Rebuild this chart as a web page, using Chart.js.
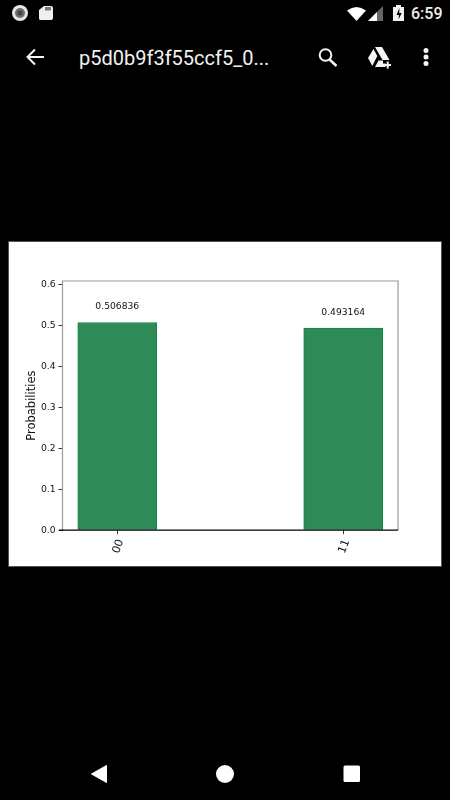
<!DOCTYPE html>
<html>
<head>
<meta charset="utf-8">
<style>
  html, body { margin: 0; padding: 0; background: #000; width: 450px; height: 800px; overflow: hidden; }
  #panel { position: absolute; left: 9px; top: 242px; width: 432px; height: 324px; background: #fff; box-shadow: 0 0 0 1px #555; }
  #icons { position: absolute; left: 0; top: 0; }
  .bar-text { position: absolute; color: #fff; font-family: Roboto, sans-serif; white-space: nowrap; }
  #clock { left: 411px; top: 4px; font-size: 16px; line-height: 19px; font-weight: 500; color: #eee; }
  #title { left: 79px; top: 45px; font-size: 20px; line-height: 26px; color: #f2f2f2; }
</style>
</head>
<body>
<svg id="icons" width="450" height="800" viewBox="0 0 450 800">
  <!-- status bar -->
  <circle cx="20" cy="13" r="8" fill="#e6e6e6"/>
  <circle cx="20" cy="13" r="5" fill="#6e6e6e"/>
  <circle cx="20" cy="13" r="2.5" fill="#444"/>
  <path d="M44 6h7a2 2 0 0 1 2 2v10a2 2 0 0 1-2 2h-11a2 2 0 0 1-1-2v-8z" fill="#f0f0f0"/>
  <path d="M46 7v3.500M48 7v3.500M50 7v3.500" stroke="#000" stroke-width="1"/>
  <path d="M347 10.500q9.500-7 19 0l-9.500 10.500z" fill="#fff"/>
  <path d="M368 21l15-15v15z" fill="#666"/>
  <path d="M368 21l9-9v9z" fill="#fff"/>
  <path d="M393 7h3v-2h5v2h3v14h-11z" fill="#f2f2f2"/>
  <path d="M399.500 8l-3 7h2.500l-.5 4.500 3.200-6.500h-2.500z" fill="#000"/>
  <!-- app bar -->
  <path d="M44 57h-16M35 49.500l-7.500 7.500 7.500 7.500" stroke="#f5f5f5" stroke-width="2" fill="none"/>
  <circle cx="325.500" cy="55" r="5.800" stroke="#f5f5f5" stroke-width="2" fill="none"/>
  <path d="M329.500 59.500l7 6.500" stroke="#f5f5f5" stroke-width="2.400"/>
  <path d="M375 47h7l7.500 13h-7zM373.500 49l3.800 7-5 10-4.300-8zM378.500 60.500h4.500v3h2.500v3.500h-10.500z" fill="#f5f5f5"/>
  <path d="M384.500 65h6.500M387.700 61.500v7" stroke="#f5f5f5" stroke-width="2"/>
  <circle cx="426" cy="50.500" r="2.500" fill="#f5f5f5"/>
  <circle cx="426" cy="57" r="2.500" fill="#f5f5f5"/>
  <circle cx="426" cy="63.500" r="2.500" fill="#f5f5f5"/>
  <!-- nav bar -->
  <path d="M106.500 765.500v17l-15-8.500z" fill="#fff" stroke="#fff" stroke-width="1" stroke-linejoin="round"/>
  <circle cx="225" cy="774" r="9" fill="#fff"/>
  <rect x="343.500" y="765.500" width="16.500" height="16.500" rx="1.500" fill="#fff"/>
</svg>
<div class="bar-text" id="clock">6:59</div>
<div class="bar-text" id="title">p5d0b9f3f55ccf5_0...</div>
<div id="panel"><canvas id="myChart" width="432" height="324"></canvas></div>
<script src="https://cdn.jsdelivr.net/npm/chart.js@4"></script>
<script>
// values
const categories = ["00", "11"];
const probabilities = [0.506836, 0.493164];
const yTicks = [0, 0.1, 0.2, 0.3, 0.4, 0.5, 0.6];
const xPositions = [0, 1];

const FONT = "'DejaVu Sans'";

// spines + the numbers over the bars
const extras = {
  id: "extras",
  afterDatasetsDraw(chart) {
    const c = chart.ctx, a = chart.chartArea;
    c.save();
    c.strokeStyle = "#999";
    c.lineWidth = 1.2;
    c.beginPath();
    c.moveTo(a.left, a.bottom);
    c.lineTo(a.left, a.top);
    c.lineTo(a.right, a.top);
    c.lineTo(a.right, a.bottom);
    c.stroke();
    c.strokeStyle = "#000";
    c.lineWidth = 1.3;
    c.beginPath();
    c.moveTo(a.left - 3.5, a.bottom);
    c.lineTo(a.right, a.bottom);
    c.stroke();
    c.fillStyle = "#111";
    c.font = "9.2px " + FONT;
    c.textAlign = "center";
    c.textBaseline = "middle";
    probabilities.forEach((p, i) => {
      const x = chart.scales.x.getPixelForValue(xPositions[i]);
      const y = chart.scales.y.getPixelForValue(p);
      c.fillText(p.toFixed(6), x, y - 15.5);
    });
    c.restore();
  }
};

const ctx = document.getElementById("myChart");
new Chart(ctx, {
  type: "bar",
  data: {
    datasets: [{
      label: "Probabilities",
      data: xPositions.map((x, i) => ({ x: x, y: probabilities[i] })),
      backgroundColor: "#2e8b57",
      borderColor: "#0a8a3a",
      borderWidth: 1,
      borderSkipped: "bottom",
      barThickness: 79
    }]
  },
  plugins: [extras],
  options: {
    responsive: false,
    animation: false,
    layout: { padding: { left: 16.4, top: 39, right: 43, bottom: 0 } },
    plugins: { legend: { display: false }, tooltip: { enabled: false } },
    scales: {
      x: {
        type: "linear",
        offset: false,
        min: -0.2425,
        max: 1.2425,
        afterBuildTicks(scale) { scale.ticks = xPositions.map((v) => ({ value: v })); },
        afterFit(scale) { scale.height = 35.8; },
        grid: { offset: false, drawOnChartArea: false, tickLength: 4, tickColor: "#333" },
        border: { display: false },
        ticks: {
          autoSkip: false,
          minRotation: 70,
          maxRotation: 70,
          padding: 3.5,
          labelOffset: 3.5,
          color: "#111",
          font: { family: FONT, size: 11 },
          callback: (v) => categories[xPositions.indexOf(v)]
        }
      },
      y: {
        min: 0,
        max: 0.6082,
        afterBuildTicks(scale) { scale.ticks = yTicks.map((v) => ({ value: v })); },
        afterFit(scale) { scale.width = 37.1; },
        grid: { drawOnChartArea: false, tickLength: 4, tickColor: "#333" },
        border: { display: false },
        title: {
          display: true,
          text: "Probabilities",
          color: "#111",
          padding: { top: 0, bottom: 4 },
          font: { family: FONT, size: 11.5, weight: "normal" }
        },
        ticks: {
          padding: 3,
          color: "#111",
          font: { family: FONT, size: 9.2 },
          callback: (v) => v.toFixed(1)
        }
      }
    }
  }
});
</script>
</body>
</html>
